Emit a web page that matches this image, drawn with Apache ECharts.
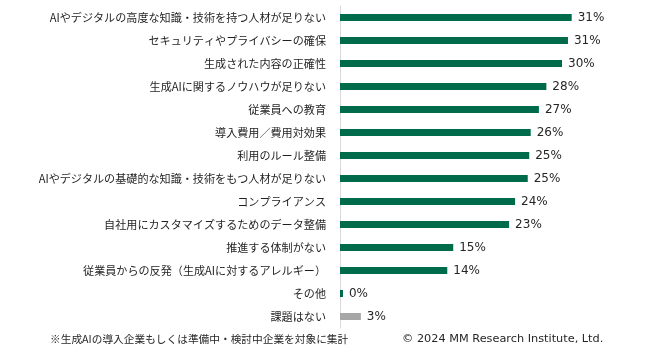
<!DOCTYPE html>
<html>
<head>
<meta charset="utf-8">
<script src="https://cdn.jsdelivr.net/npm/echarts@6/dist/echarts.min.js"></script>
<style>
  html, body { margin: 0; padding: 0; background: #fff; }
  #chart { width: 665px; height: 354px; }
</style>
</head>
<body>
<div id="chart"></div>
<script>
// 課題の項目
var categories = [
  'AIやデジタルの高度な知識・技術を持つ人材が足りない',
  'セキュリティやプライバシーの確保',
  '生成された内容の正確性',
  '生成AIに関するノウハウが足りない',
  '従業員への教育',
  '導入費用／費用対効果',
  '利用のルール整備',
  'AIやデジタルの基礎的な知識・技術をもつ人材が足りない',
  'コンプライアンス',
  '自社用にカスタマイズするためのデータ整備',
  '推進する体制がない',
  '従業員からの反発（生成AIに対するアレルギー）',
  'その他',
  '課題はない'
]
// 回答率（%）
var values = [31.1, 30.6, 29.8, 27.7, 26.7, 25.6, 25.4, 25.2, 23.5, 22.7, 15.2, 14.4, 0.4, 2.8]
var greyItems = ['課題はない']

var myChart = echarts.init(document.getElementById('chart'))

var barData = values.map(function (v, i) {
  return {
    value: v,
    itemStyle: { color: greyItems.indexOf(categories[i]) >= 0 ? '#a6a6a6' : '#006b4b' }
  }
})

myChart.setOption({
  animation: false,
  grid: { left: 340, right: 27, top: 6, bottom: 26, containLabel: false },
  xAxis: {
    type: 'value',
    min: 0,
    max: 40,
    show: false
  },
  yAxis: {
    type: 'category',
    data: categories,
    inverse: true,
    axisLine: { show: true, lineStyle: { color: '#d9d9d9', width: 1 } },
    axisTick: { show: false },
    axisLabel: {
      margin: 14,
      fontSize: 11.1,
      color: '#1f1f1f',
      fontFamily: '"Noto Sans CJK JP", sans-serif'
    }
  },
  series: [{
    type: 'bar',
    data: barData,
    barWidth: 7,
    label: {
      show: true,
      position: 'right',
      distance: 6,
      fontSize: 12,
      color: '#262626',
      fontFamily: '"DejaVu Sans", sans-serif',
      formatter: function (p) { return Math.round(p.value) + '%' }
    }
  }],
  graphic: [
    {
      type: 'text',
      left: 50,
      top: 334,
      style: {
        text: '※生成AIの導入企業もしくは準備中・検討中企業を対象に集計',
        fontSize: 10.7,
        fill: '#262626',
        fontFamily: '"Noto Sans CJK JP", sans-serif'
      }
    },
    {
      type: 'text',
      left: 402,
      top: 334,
      style: {
        text: '© 2024 MM Research Institute, Ltd.',
        fontSize: 11.3,
        fill: '#262626',
        fontFamily: '"DejaVu Sans", sans-serif'
      }
    }
  ]
})
</script>
</body>
</html>
